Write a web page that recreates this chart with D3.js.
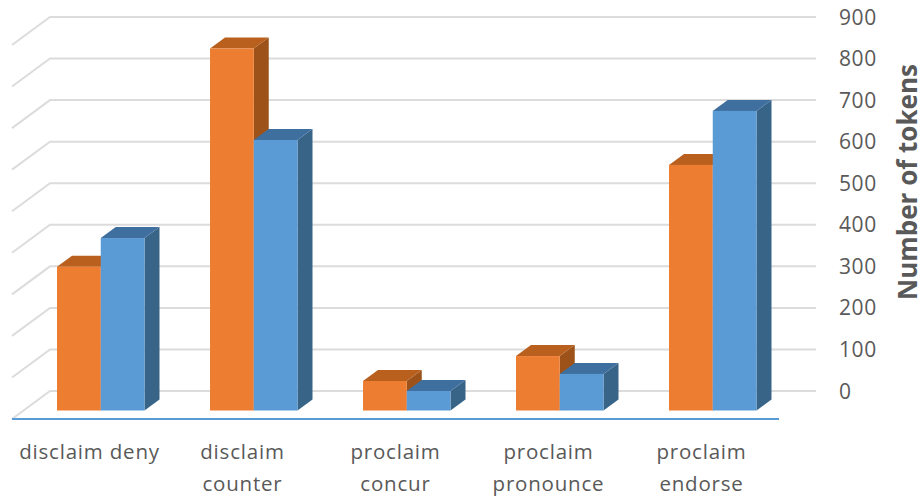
<!DOCTYPE html>
<html>
<head>
<meta charset="utf-8">
<script src="https://cdn.jsdelivr.net/npm/d3@7"></script>
<style>
html, body { margin: 0; padding: 0; background: #fff; }
svg { display: block; }
text { font-family: "Open Sans", sans-serif; fill: #595959; }
</style>
</head>
<body>
<svg id="chart" width="924" height="500"></svg>
<script>
const categories = [["disclaim deny"], ["disclaim", "counter"], ["proclaim", "concur"], ["proclaim", "pronounce"], ["proclaim", "endorse"]];
const seriesNames = ["first", "second"];
const firstValues = [346, 871, 71, 131, 591];
const secondValues = [415, 651, 47, 88, 721];
const tickValues = [0, 100, 200, 300, 400, 500, 600, 700, 800, 900];
const seriesFill = ["#ED7D31", "#5B9BD5"];
const seriesTop = ["#B9601F", "#3F6F9F"];
const seriesSide = ["#9C5219", "#386488"];

const svg = d3.select("#chart");

// Oblique projection: the back wall sits up and to the right of the floor's front edge.
const wallDx = 38, wallDy = 28;
const barDx = 15, barDy = 11;
const frontLeft = 12, frontRight = 779, frontBase = 419;
const barBase = 410.5, barInset = 11.25;

const y = d3.scaleLinear().domain([0, 900]).range([391, 17]);
const barHeight = d => y(0) - y(d);

const x0 = d3.scaleBand().domain(d3.range(categories.length)).range([13, 778]);
const groupWidth = 87.5;
const x1 = d3.scaleBand().domain(d3.range(seriesNames.length)).range([0, groupWidth]);

// Wall and side gridlines
const grid = svg.append("g").attr("fill", "none").attr("stroke", "#DCDCDC").attr("stroke-width", 2);
grid.selectAll("path").data(tickValues).join("path")
  .attr("d", d => `M${frontLeft},${y(d) + wallDy}L${frontLeft + wallDx},${y(d)}L${frontRight + wallDx - 1},${y(d)}`);

// Floor front edge
svg.append("line")
  .attr("x1", frontLeft).attr("x2", frontRight)
  .attr("y1", frontBase).attr("y2", frontBase)
  .attr("stroke", "#5B9BD5").attr("stroke-width", 2);

// Bars: each group paints the first series, then the second over it
const rows = categories.map((c, i) => [firstValues[i], secondValues[i]]);
const groups = svg.append("g").selectAll("g").data(rows).join("g")
  .attr("transform", (d, i) => `translate(${x0(i) + x0.bandwidth() / 2 - groupWidth / 2 + barInset},0)`);

const bars = groups.selectAll("g").data(d => d.map((v, s) => ({ v, s }))).join("g")
  .attr("transform", d => `translate(${x1(d.s)},0)`);

const w = x1.bandwidth();
bars.append("path")
  .attr("fill", d => seriesSide[d.s])
  .attr("d", d => {
    const t = barBase - barHeight(d.v);
    return `M${w},${t}L${w + barDx},${t - barDy}L${w + barDx},${barBase - barDy}L${w},${barBase}Z`;
  });
bars.append("path")
  .attr("fill", d => seriesTop[d.s])
  .attr("d", d => {
    const t = barBase - barHeight(d.v);
    return `M0,${t}L${barDx},${t - barDy}L${w + barDx},${t - barDy}L${w},${t}Z`;
  });
bars.append("rect")
  .attr("fill", d => seriesFill[d.s])
  .attr("x", 0).attr("width", w)
  .attr("y", d => barBase - barHeight(d.v))
  .attr("height", d => barHeight(d.v));

// Value axis labels
svg.append("g").selectAll("text").data(tickValues).join("text")
  .attr("x", 839).attr("y", d => y(d))
  .attr("dy", "0.36em")
  .attr("font-size", 21)
  .attr("letter-spacing", 0.6)
  .text(d => d);

// Category labels
const catLabels = svg.append("g").selectAll("text").data(categories).join("text")
  .attr("text-anchor", "middle")
  .attr("font-size", 20.5)
  .attr("letter-spacing", 0.8)
  .attr("transform", (d, i) => `translate(${x0(i) + x0.bandwidth() / 2},459)`);
catLabels.selectAll("tspan").data(d => d).join("tspan")
  .attr("x", 0).attr("y", (d, i) => i * 32)
  .text(d => d);

// Value axis title
svg.append("text")
  .attr("transform", "translate(917,182) rotate(-90)")
  .attr("text-anchor", "middle")
  .attr("font-size", 26)
  .attr("font-weight", 700)
  .text("Number of tokens");
</script>
</body>
</html>
